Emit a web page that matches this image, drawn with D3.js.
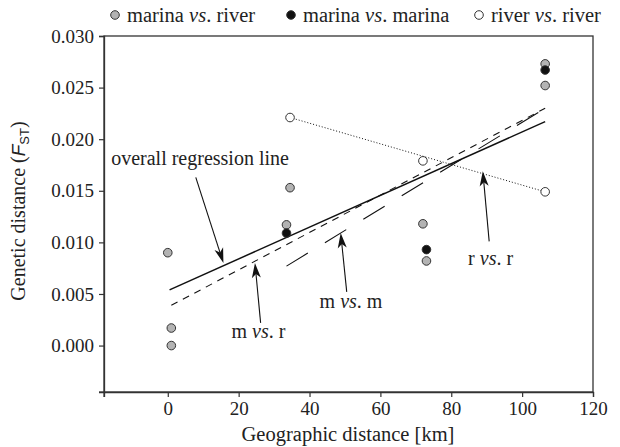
<!DOCTYPE html>
<html><head><meta charset="utf-8">
<script src="https://cdn.jsdelivr.net/npm/d3@7"></script>
<style>
body{margin:0;background:#fff;}
svg text{font-family:"Liberation Serif","Times New Roman",serif;fill:#222;}
</style></head>
<body><svg id="c" width="620" height="447"></svg>
<script>
// ---- data ----
const mrX = [0, 1, 1, 33.5, 34.5, 72, 73, 106.5, 106.5];
const mrY = [0.0090, 0.0017, 0.0000, 0.0117, 0.0153, 0.0118, 0.0082, 0.0273, 0.0252];
const mmX = [33.5, 73, 106.5];
const mmY = [0.0109, 0.0093, 0.0267];
const rrX = [34.5, 72, 106.5];
const rrY = [0.0221, 0.0179, 0.0149];
// regression lines: [x0, x1], [y0, y1]
const overallX = [0.5, 106.5], overallY = [0.0054, 0.0217];
const mvrX = [1, 106.5], mvrY = [0.0039, 0.0230];
const mvmX = [33.5, 106.5], mvmY = [0.0077, 0.0230];
const rvrX = [34.5, 106.5], rvrY = [0.0221, 0.0149];
const xTicks = [0, 20, 40, 60, 80, 100, 120];
const yTicks = [0.000, 0.005, 0.010, 0.015, 0.020, 0.025, 0.030];
const legendLabels = [["marina ", "vs", ". river"], ["marina ", "vs", ". marina"], ["river ", "vs", ". river"]];
// annotations: label parts, text anchor (data), arrow start and tip (data)
const annLabels = [["overall regression line"], ["m ", "vs", ". r"], ["m ", "vs", ". m"], ["r ", "vs", ". r"]];
const annText = [[9.1, 0.0175], [25.6, 0.0007], [51.7, 0.0036], [91.1, 0.0078]];
const annFrom = [[7.9, 0.0163], [26.2, 0.0022], [50.5, 0.0052], [90.7, 0.0101]];
const annTip = [[15.7, 0.0080], [24.6, 0.0080], [48.8, 0.0109], [88.9, 0.0169]];

const svg = d3.select("#c");
const L = 104, R = 593, T = 36, B = 392;
const x = d3.scaleLinear().domain([-18, 120]).range([L, R]);
const y = d3.scaleLinear().domain([-0.0045, 0.030]).range([B, T]);
const axisCol = "#333";

// frame
svg.append("rect").attr("x", L).attr("y", T).attr("width", R - L).attr("height", B - T)
  .attr("fill", "none").attr("stroke", axisCol).attr("stroke-width", 1.3);

const gx = svg.append("g").attr("transform", `translate(0,${B})`)
  .call(d3.axisBottom(x).tickValues(xTicks).tickSize(5).tickPadding(5).tickFormat(d3.format("d")));
const gy = svg.append("g").attr("transform", `translate(${L},0)`)
  .call(d3.axisLeft(y).tickValues(yTicks).tickSize(5).tickPadding(5).tickFormat(d3.format(".3f")));
[gx, gy].forEach(g => {
  g.select(".domain").attr("stroke", axisCol).attr("stroke-width", 1.3);
  g.selectAll(".tick line").attr("stroke", axisCol).attr("stroke-width", 1.2);
  g.selectAll(".tick text").attr("font-family", '"Liberation Serif",serif').attr("font-size", 19).attr("fill", "#222");
});
// corner ticks
svg.append("line").attr("x1", L).attr("x2", L).attr("y1", B).attr("y2", B + 5).attr("stroke", axisCol).attr("stroke-width", 1.2);
svg.append("line").attr("x1", L - 5).attr("x2", L).attr("y1", B).attr("y2", B).attr("stroke", axisCol).attr("stroke-width", 1.2);

// axis titles
svg.append("text").attr("x", 348).attr("y", 441).attr("text-anchor", "middle")
  .attr("font-size", 20.5).text("Geographic distance [km]");
const yl = svg.append("text").attr("transform", `translate(25,${(T + B) / 2 - 3}) rotate(-90)`)
  .attr("text-anchor", "middle").attr("font-size", 20);
yl.append("tspan").text("Genetic distance (");
yl.append("tspan").attr("font-family", '"Liberation Sans",Arial,sans-serif').attr("font-style", "italic").attr("font-size", 19).text("F");
yl.append("tspan").attr("font-family", '"Liberation Sans",Arial,sans-serif').attr("font-size", 13).attr("dy", 4).text("ST");
yl.append("tspan").attr("dy", -4).text(")");

// lines
const line = d3.line().x(d => x(d[0])).y(d => y(d[1]));
function drawLine(xs, ys, dash, w) {
  svg.append("path").datum(xs.map((v, i) => [v, ys[i]])).attr("d", line)
    .attr("fill", "none").attr("stroke", "#111").attr("stroke-width", w)
    .attr("stroke-dasharray", dash);
}
drawLine(rvrX, rvrY, "1,2", 1);
drawLine(mvmX, mvmY, "25,20", 1.1);
drawLine(mvrX, mvrY, "7,6", 1.1);
drawLine(overallX, overallY, null, 1.5);

// arrows
function arrow(p0, p1) {
  const x0 = x(p0[0]), y0 = y(p0[1]), x1 = x(p1[0]), y1 = y(p1[1]);
  const a = Math.atan2(y1 - y0, x1 - x0);
  const len = 15, hw = 4.5, notch = 11;
  svg.append("line").attr("x1", x0).attr("y1", y0)
    .attr("x2", x1 - Math.cos(a) * notch).attr("y2", y1 - Math.sin(a) * notch)
    .attr("stroke", "#111").attr("stroke-width", 1.1);
  const c = Math.cos(a), s = Math.sin(a);
  const pt = (u, v) => [x1 + u * c - v * s, y1 + u * s + v * c];
  const pts = [pt(0, 0), pt(-len, -hw), pt(-notch, 0), pt(-len, hw)];
  svg.append("path").attr("d", "M" + pts.map(p => p.join(",")).join("L") + "Z").attr("fill", "#111");
}
annLabels.forEach((parts, i) => {
  const t = svg.append("text").attr("x", x(annText[i][0])).attr("y", y(annText[i][1]))
    .attr("text-anchor", "middle").attr("font-size", 20);
  parts.forEach((p, j) => t.append("tspan").attr("font-style", p === "vs" ? "italic" : "normal").text(p));
  arrow(annFrom[i], annTip[i]);
});

// points
function pts(xs, ys, fill) {
  svg.append("g").selectAll("circle").data(xs.map((v, i) => [v, ys[i]])).join("circle")
    .attr("cx", d => x(d[0])).attr("cy", d => y(d[1])).attr("r", 4.3)
    .attr("fill", fill).attr("stroke", "#333").attr("stroke-width", 1);
}
pts(mrX, mrY, "#b3b3b3");
pts(mmX, mmY, "#111");
pts(rrX, rrY, "#fff");

// legend
const legFills = ["#b3b3b3", "#111", "#fff"];
const legX = [115, 291, 479];
legendLabels.forEach((parts, i) => {
  svg.append("circle").attr("cx", legX[i]).attr("cy", 15).attr("r", 4.3)
    .attr("fill", legFills[i]).attr("stroke", "#333").attr("stroke-width", 1);
  const t = svg.append("text").attr("x", legX[i] + 12).attr("y", 21.5).attr("font-size", 20.5);
  parts.forEach(p => t.append("tspan").attr("font-style", p === "vs" ? "italic" : "normal").text(p));
});
</script></body></html>
